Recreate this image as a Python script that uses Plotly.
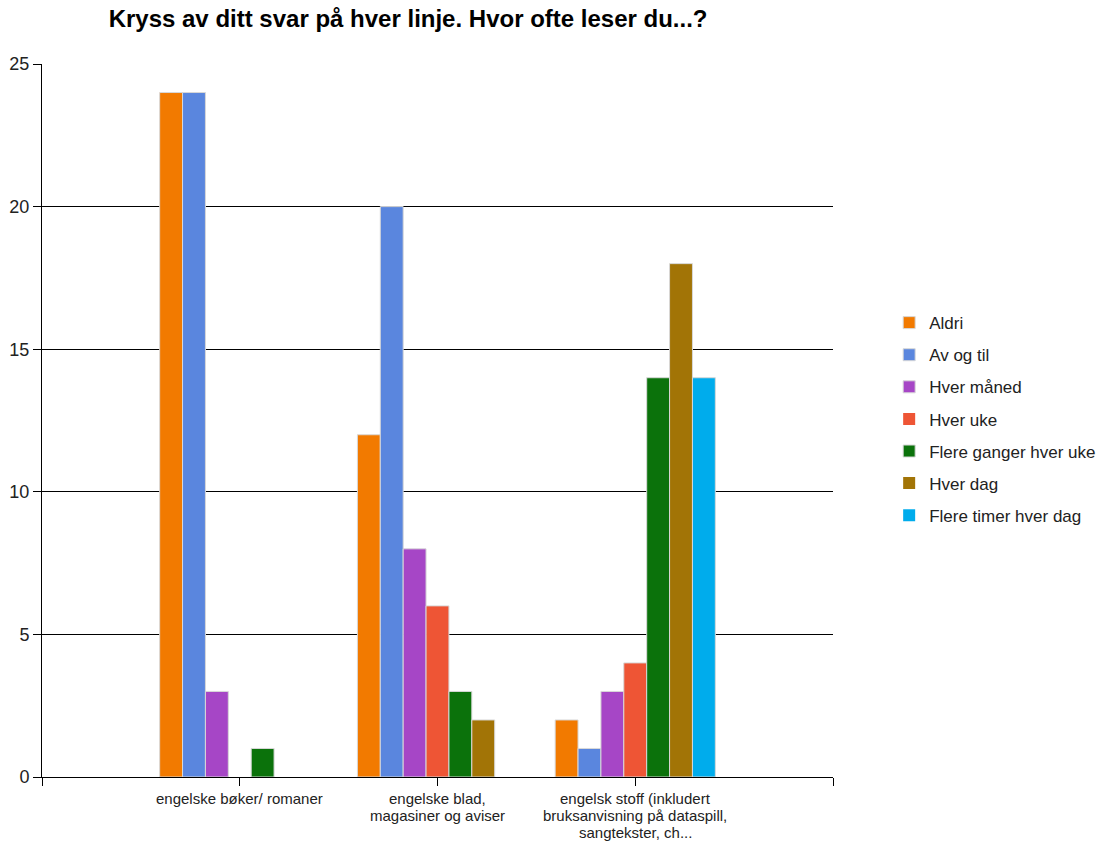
import plotly.graph_objects as go

# Survey answers: how often respondents read English material
categories = [
    "engelske bøker/ romaner",
    "engelske blad,<br>magasiner og aviser",
    "engelsk stoff (inkludert<br>bruksanvisning på dataspill,<br>sangtekster, ch...",
]
series_names = [
    "Aldri",
    "Av og til",
    "Hver måned",
    "Hver uke",
    "Flere ganger hver uke",
    "Hver dag",
    "Flere timer hver dag",
]
aldri = [24, 12, 2]
av_og_til = [24, 20, 1]
hver_maned = [3, 8, 3]
hver_uke = [0, 6, 4]
flere_ganger_hver_uke = [1, 3, 14]
hver_dag = [0, 2, 18]
flere_timer_hver_dag = [0, 0, 14]

series_values = [aldri, av_og_til, hver_maned, hver_uke,
                 flere_ganger_hver_uke, hver_dag, flere_timer_hver_dag]
series_colors = ["#F27A00", "#5A86DE", "#A646C6", "#EE5535",
                 "#0B720B", "#A27406", "#00ACEC"]

y_ticks = [0, 5, 10, 15, 20, 25]

FONT = "Arial, 'Liberation Sans', sans-serif"

fig = go.Figure()
positions = list(range(len(categories)))
for i, (name, vals, col) in enumerate(zip(series_names, series_values, series_colors)):
    # no outline on empty bars so nothing is drawn for a zero count
    outline = [1 if v > 0 else 0 for v in vals]
    fig.add_trace(go.Bar(
        x=positions,
        y=vals,
        name=name,
        legendgroup=f"g{i}",
        marker=dict(color=col, line=dict(color="#D8D8D8", width=outline)),
        hoverinfo="x+y+name",
    ))

# Category labels: one annotation per text line for tight line spacing
for pos, label in zip(positions, categories):
    for j, line in enumerate(label.split("<br>")):
        fig.add_annotation(
            x=pos, xref="x",
            y=0, yref="paper",
            yanchor="middle",
            yshift=-(21 + 17 * j),
            text=line,
            showarrow=False,
            font=dict(family=FONT, size=15, color="#222222"),
        )

fig.update_layout(
    width=1097,
    height=841,
    paper_bgcolor="white",
    plot_bgcolor="white",
    barmode="group",
    bargap=0.19,
    bargroupgap=0.0,
    margin=dict(l=42, r=264, t=64, b=64, autoexpand=False),
    title=dict(
        text="<b>Kryss av ditt svar på hver linje. Hvor ofte leser du...?</b>",
        font=dict(family=FONT, size=24, color="#000000"),
        x=0.372, xref="container", xanchor="center",
        y=1 - 19 / 841, yref="container", yanchor="middle",
    ),
    font=dict(family=FONT),
    legend=dict(
        x=1.071, xanchor="left",
        y=0.502, yanchor="middle",
        font=dict(family=FONT, size=17, color="#222222"),
        traceorder="grouped",
        tracegroupgap=7,
        bgcolor="rgba(0,0,0,0)",
    ),
    xaxis=dict(
        range=[-1, 3],
        tickmode="array",
        tickvals=[-1] + positions + [3],
        ticktext=[""] * (len(positions) + 2),
        ticks="outside",
        ticklen=8,
        tickcolor="#000000",
        showline=True,
        linecolor="#000000",
        linewidth=1,
        showgrid=False,
        zeroline=False,
        automargin=False,
    ),
    yaxis=dict(
        range=[0, 25],
        tickmode="array",
        tickvals=y_ticks,
        ticks="outside",
        ticklen=8,
        tickcolor="#000000",
        showline=True,
        linecolor="#000000",
        linewidth=1,
        showgrid=True,
        gridcolor="#000000",
        gridwidth=1,
        zeroline=False,
        automargin=False,
        tickfont=dict(family=FONT, size=18, color="#222222"),
    ),
)

fig.write_html("out.html")
